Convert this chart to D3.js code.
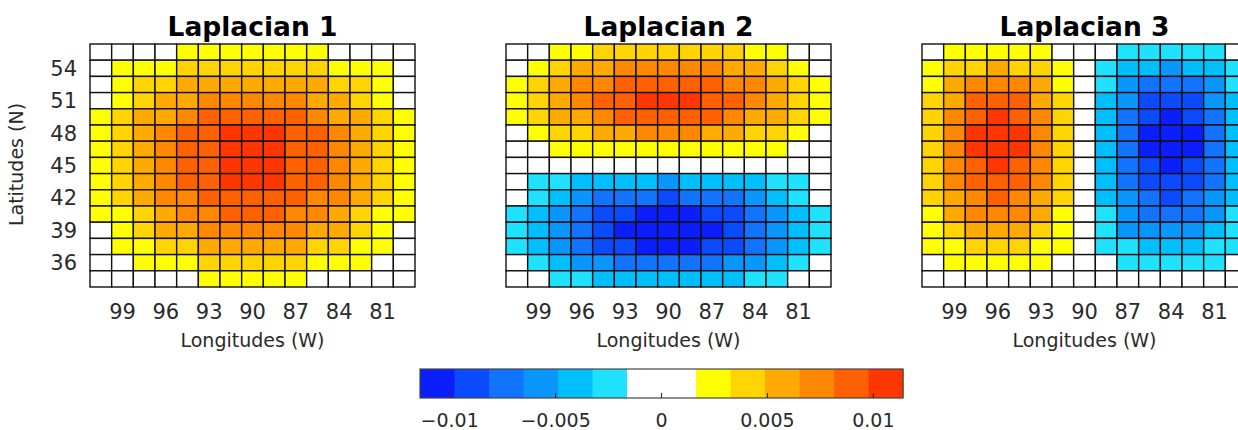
<!DOCTYPE html>
<html>
  <head>
    <meta charset="utf-8">
    <title>Laplacians</title>
    <style>
      body { margin: 0; background: #fff; }
      .cell { stroke: #111; stroke-width: 1.4px; }
      .title { font-family: "DejaVu Sans"; font-weight: bold; font-size: 26.5px; fill: #000; }
      .tick { font-family: "DejaVu Sans"; font-size: 21px; fill: #2a2a2a; }
      .label { font-family: "DejaVu Sans"; font-size: 19px; fill: #2a2a2a; }
      .cbtick { font-family: "DejaVu Sans"; font-size: 19px; fill: #2a2a2a; }
    </style>
    <script src="https://cdn.jsdelivr.net/npm/d3@7"></script>
  </head>
  <body>
  <script type="text/javascript">
    // grid cell centres (degrees)
    var lons = [100.5, 99, 97.5, 96, 94.5, 93, 91.5, 90, 88.5, 87, 85.5, 84, 82.5, 81, 79.5];
    var lats = [55.5, 54, 52.5, 51, 49.5, 48, 46.5, 45, 43.5, 42, 40.5, 39, 37.5, 36, 34.5];
    var lonTicks = [99, 96, 93, 90, 87, 84, 81];
    var latTicks = [54, 51, 48, 45, 42, 39, 36];
    var cbTicks = [-0.01, -0.005, 0, 0.005, 0.01];
    var titles = ["Laplacian 1", "Laplacian 2", "Laplacian 3"];

    // values x 1e-3, rows north -> south, columns west -> east
    var lap1 = [
      [0,0,0,0,2.4,2.4,2.4,2.4,2.4,2.4,2.4,0,0,0,0],
      [0,2.4,2.4,2.4,4.1,4.1,4.1,4.1,4.1,4.1,4.1,2.4,2.4,2.4,0],
      [0,2.4,4.1,4.1,5.7,5.7,5.7,5.7,5.7,5.7,5.7,4.1,4.1,2.4,0],
      [0,2.4,4.1,5.7,5.7,7.3,7.3,7.3,7.3,7.3,5.7,5.7,4.1,2.4,0],
      [2.4,4.1,5.7,5.7,7.3,9,9,9,9,9,7.3,5.7,5.7,4.1,2.4],
      [2.4,4.1,5.7,7.3,9,9,10.6,10.6,10.6,9,9,7.3,5.7,4.1,2.4],
      [2.4,4.1,5.7,7.3,9,9,10.6,10.6,10.6,9,9,7.3,5.7,4.1,2.4],
      [2.4,4.1,5.7,7.3,9,9,10.6,10.6,10.6,9,9,7.3,5.7,4.1,2.4],
      [2.4,4.1,5.7,7.3,9,9,10.6,10.6,10.6,9,9,7.3,5.7,4.1,2.4],
      [2.4,4.1,5.7,7.3,7.3,9,9,9,9,9,7.3,7.3,5.7,4.1,2.4],
      [2.4,2.4,4.1,5.7,7.3,7.3,9,9,9,7.3,7.3,5.7,4.1,2.4,2.4],
      [0,2.4,4.1,5.7,5.7,7.3,7.3,7.3,7.3,7.3,5.7,5.7,4.1,2.4,0],
      [0,2.4,2.4,4.1,4.1,5.7,5.7,5.7,5.7,5.7,4.1,4.1,2.4,2.4,0],
      [0,0,2.4,2.4,2.4,4.1,4.1,4.1,4.1,4.1,2.4,2.4,2.4,0,0],
      [0,0,0,0,0,2.4,2.4,2.4,2.4,2.4,0,0,0,0,0]
    ];
    var lap2 = [
      [0,0,2.4,2.4,4.1,4.1,4.1,4.1,4.1,4.1,4.1,2.4,2.4,0,0],
      [0,2.4,4.1,5.7,5.7,7.3,7.3,7.3,7.3,7.3,5.7,5.7,4.1,2.4,0],
      [2.4,4.1,5.7,7.3,7.3,9,9,9,9,9,7.3,7.3,5.7,4.1,2.4],
      [2.4,4.1,5.7,7.3,9,9,10.6,10.6,10.6,9,9,7.3,5.7,4.1,2.4],
      [2.4,4.1,5.7,5.7,7.3,9,9,9,9,9,7.3,5.7,5.7,4.1,2.4],
      [0,2.4,4.1,4.1,5.7,5.7,7.3,7.3,7.3,5.7,5.7,4.1,4.1,2.4,0],
      [0,0,2.4,2.4,2.4,2.4,2.4,2.4,2.4,2.4,2.4,2.4,2.4,0,0],
      [0,0,0,0,0,0,0,0,0,0,0,0,0,0,0],
      [0,-2.4,-2.4,-4.1,-4.1,-4.1,-4.1,-5.7,-4.1,-4.1,-4.1,-4.1,-2.4,-2.4,0],
      [0,-2.4,-4.1,-5.7,-7.3,-7.3,-7.3,-9,-7.3,-7.3,-7.3,-5.7,-4.1,-2.4,0],
      [-2.4,-4.1,-5.7,-7.3,-9,-9,-10.6,-10.6,-10.6,-9,-9,-7.3,-5.7,-4.1,-2.4],
      [-2.4,-4.1,-5.7,-7.3,-9,-10.6,-10.6,-10.6,-10.6,-10.6,-9,-7.3,-5.7,-4.1,-2.4],
      [-2.4,-4.1,-5.7,-7.3,-9,-9,-10.6,-10.6,-10.6,-9,-9,-7.3,-5.7,-4.1,-2.4],
      [0,-2.4,-4.1,-5.7,-5.7,-7.3,-7.3,-7.3,-7.3,-7.3,-5.7,-5.7,-4.1,-2.4,0],
      [0,0,-2.4,-2.4,-4.1,-4.1,-4.1,-4.1,-4.1,-4.1,-4.1,-2.4,-2.4,0,0]
    ];
    var lap3 = [
      [0,2.4,2.4,2.4,2.4,2.4,0,0,0,-2.4,-2.4,-2.4,-2.4,-2.4,0],
      [2.4,4.1,4.1,5.7,4.1,4.1,2.4,0,-2.4,-4.1,-4.1,-5.7,-4.1,-4.1,-2.4],
      [2.4,5.7,7.3,7.3,7.3,5.7,2.4,0,-2.4,-5.7,-7.3,-7.3,-7.3,-5.7,-2.4],
      [4.1,5.7,9,9,9,5.7,4.1,0,-4.1,-5.7,-9,-9,-9,-5.7,-4.1],
      [4.1,7.3,9,10.6,9,7.3,4.1,0,-4.1,-7.3,-9,-10.6,-9,-7.3,-4.1],
      [4.1,7.3,10.6,10.6,10.6,7.3,4.1,0,-4.1,-7.3,-10.6,-10.6,-10.6,-7.3,-4.1],
      [4.1,7.3,10.6,10.6,10.6,7.3,4.1,0,-4.1,-7.3,-10.6,-10.6,-10.6,-7.3,-4.1],
      [4.1,7.3,9,10.6,9,7.3,4.1,0,-4.1,-7.3,-9,-10.6,-9,-7.3,-4.1],
      [4.1,7.3,9,9,9,7.3,4.1,0,-4.1,-7.3,-9,-9,-9,-7.3,-4.1],
      [4.1,5.7,7.3,9,7.3,5.7,4.1,0,-4.1,-5.7,-7.3,-9,-7.3,-5.7,-4.1],
      [2.4,5.7,7.3,7.3,7.3,5.7,2.4,0,-2.4,-5.7,-7.3,-7.3,-7.3,-5.7,-2.4],
      [2.4,4.1,5.7,5.7,5.7,4.1,2.4,0,-2.4,-5.7,-5.7,-5.7,-5.7,-4.1,-2.4],
      [2.4,2.4,4.1,4.1,4.1,2.4,2.4,0,-2.4,-2.4,-4.1,-4.1,-4.1,-2.4,-2.4],
      [0,2.4,2.4,2.4,2.4,2.4,0,0,0,-2.4,-2.4,-2.4,-2.4,-2.4,0],
      [0,0,0,0,0,0,0,0,0,0,0,0,0,0,0]
    ];

    var cmap = ["#0a1eff", "#0a4bff", "#1273ff", "#0a96ff", "#00bfff", "#1ee2ff", "#ffffff",
                "#ffffff", "#ffff00", "#ffd400", "#ffaa00", "#ff8800", "#ff6000", "#ff3600"];
    var cmax = 0.0114;

    var width = 1238, height = 430;
    var svg = d3.select("body").append("svg")
        .attr("width", width)
        .attr("height", height);

    var color = d3.scaleQuantize().domain([-cmax, cmax]).range(cmap);

    var panelW = 325, panelH = 243, panelTop = 44;
    var lefts = [90, 506, 922];

    var x = d3.scaleBand().domain(lons).range([0, panelW]);
    var y = d3.scaleBand().domain(lats).range([0, panelH]);

    [lap1, lap2, lap3].forEach(function(grid, p){
      var g = svg.append("g").attr("transform", "translate(" + lefts[p] + "," + panelTop + ")");

      var cells = [];
      grid.forEach(function(row, i){
        row.forEach(function(v, j){
          cells.push({lat: lats[i], lon: lons[j], v: v * 1e-3});
        });
      });

      g.selectAll("rect")
        .data(cells)
        .enter()
        .append("rect")
          .attr("class", "cell")
          .attr("x", function(d){ return x(d.lon); })
          .attr("y", function(d){ return y(d.lat); })
          .attr("width", x.bandwidth())
          .attr("height", y.bandwidth())
          .attr("fill", function(d){ return color(d.v); });

      g.append("text")
        .attr("class", "title")
        .attr("x", panelW / 2)
        .attr("y", -8)
        .attr("text-anchor", "middle")
        .text(titles[p]);

      // longitude tick labels
      g.selectAll(".xt")
        .data(lonTicks)
        .enter()
        .append("text")
          .attr("class", "tick")
          .attr("x", function(d){ return x(d) + x.bandwidth() / 2; })
          .attr("y", panelH + 32)
          .attr("text-anchor", "middle")
          .text(function(d){ return d; });

      g.append("text")
        .attr("class", "label")
        .attr("x", panelW / 2)
        .attr("y", panelH + 60)
        .attr("text-anchor", "middle")
        .text("Longitudes (W)");

      if (p === 0) {
        g.selectAll(".yt")
          .data(latTicks)
          .enter()
          .append("text")
            .attr("class", "tick")
            .attr("x", -13)
            .attr("y", function(d){ return y(d) + y.bandwidth() / 2; })
            .attr("dy", "0.36em")
            .attr("text-anchor", "end")
            .text(function(d){ return d; });

        g.append("text")
          .attr("class", "label")
          .attr("transform", "translate(-67," + (panelH / 2 - 1) + ") rotate(-90)")
          .attr("text-anchor", "middle")
          .text("Latitudes (N)");
      }
    });

    // colorbar
    var cbX = 420, cbW = 483, cbY = 369, cbH = 29;
    var cb = d3.scaleLinear().domain([-cmax, cmax]).range([cbX, cbX + cbW]);
    var cbg = svg.append("g");
    cbg.selectAll("rect")
      .data(cmap)
      .enter()
      .append("rect")
        .attr("x", function(c, i){ return cb(-cmax + i * 2 * cmax / cmap.length); })
        .attr("y", cbY)
        .attr("width", cbW / cmap.length + 0.5)
        .attr("height", cbH)
        .attr("fill", function(c){ return c; });
    cbg.append("rect")
      .attr("x", cbX).attr("y", cbY)
      .attr("width", cbW).attr("height", cbH)
      .attr("fill", "none")
      .attr("stroke", "#444")
      .attr("stroke-width", 1.2);
    cbg.selectAll(".cbt")
      .data(cbTicks)
      .enter()
      .append("line")
        .attr("x1", function(d){ return cb(d); })
        .attr("x2", function(d){ return cb(d); })
        .attr("y1", cbY + cbH)
        .attr("y2", cbY + cbH - 5)
        .attr("stroke", "#333")
        .attr("stroke-width", 1.2);
    cbg.selectAll(".cbl")
      .data(cbTicks)
      .enter()
      .append("text")
        .attr("class", "cbtick")
        .attr("x", function(d){ return cb(d); })
        .attr("y", cbY + cbH + 29)
        .attr("text-anchor", "middle")
        .text(function(d){ return d3.format("")(d).replace("-", "\u2212"); });
  </script>
  </body>
</html>
